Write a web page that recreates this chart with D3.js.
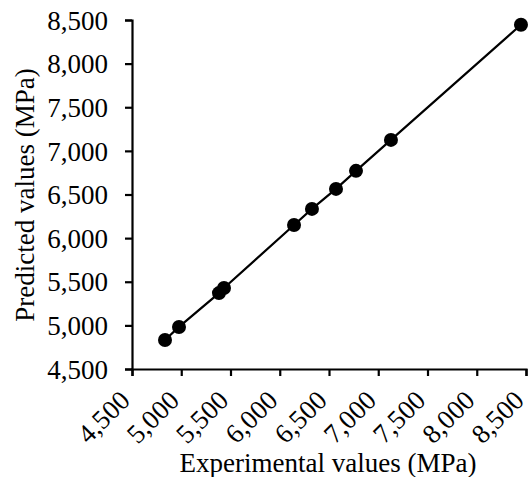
<!DOCTYPE html>
<html>
<head>
<meta charset="utf-8">
<script src="https://cdn.jsdelivr.net/npm/d3@7"></script>
<style>
  body { margin: 0; background: #fff; }
  svg { display: block; }
  text { font-family: "Liberation Serif", "Times New Roman", serif; fill: #000; }
</style>
</head>
<body>
<svg id="chart"></svg>
<script>
// experimental vs predicted (MPa)
var experimental = [4835, 4977, 5383, 5434, 6145, 6327, 6571, 6774, 7129, 8449];
var predicted    = [4832, 4982, 5370, 5428, 6151, 6335, 6564, 6771, 7126, 8445];
var tickValues = [4500, 5000, 5500, 6000, 6500, 7000, 7500, 8000, 8500];

var width = 530, height = 477;
var margin = { left: 132, right: 4, top: 20, bottom: 108 };

var svg = d3.select("#chart").attr("width", width).attr("height", height);

var x = d3.scaleLinear().domain([4500, 8500]).range([margin.left, width - margin.right]);
var y = d3.scaleLinear().domain([4500, 8500]).range([height - margin.bottom, margin.top]);

var fmt = d3.format(",");

// y axis
var yAxis = svg.append("g")
    .attr("transform", "translate(" + margin.left + ",0)")
    .call(d3.axisLeft(y).tickValues(tickValues).tickFormat(fmt).tickSizeOuter(0).tickSize(7).tickPadding(17));
yAxis.select(".domain").attr("stroke-width", 2.2);
yAxis.selectAll(".tick line").attr("stroke-width", 2.2);
yAxis.selectAll(".tick text").style("font-size", "27px").attr("dy", "0.34em");

// x axis, labels turned 45 degrees
var xAxis = svg.append("g")
    .attr("transform", "translate(0," + y(4500) + ")")
    .call(d3.axisBottom(x).tickValues(tickValues).tickFormat(fmt).tickSizeOuter(0).tickSize(7));
xAxis.select(".domain").attr("stroke-width", 2.2);
xAxis.selectAll(".tick line").attr("stroke-width", 2.2);
xAxis.selectAll(".tick text")
    .style("font-size", "27px")
    .attr("text-anchor", "end")
    .attr("dy", null)
    .attr("y", 0)
    .attr("transform", "translate(-1,33) rotate(-45)");

var pts = experimental.map(function (d, i) { return [d, predicted[i]]; });

// connecting line
svg.append("path")
    .datum(pts)
    .attr("fill", "none")
    .attr("stroke", "#000")
    .attr("stroke-width", 2.2)
    .attr("d", d3.line().x(function (d) { return x(d[0]); }).y(function (d) { return y(d[1]); }));

// markers
svg.selectAll(".pt")
    .data(pts).enter()
    .append("circle")
    .attr("class", "pt")
    .attr("cx", function (d) { return x(d[0]); })
    .attr("cy", function (d) { return y(d[1]); })
    .attr("r", 7)
    .attr("fill", "#000");

// axis titles
svg.append("text")
    .attr("x", 328)
    .attr("y", 472)
    .attr("text-anchor", "middle")
    .style("font-size", "27px")
    .text("Experimental values (MPa)");

svg.append("text")
    .attr("transform", "translate(34,195) rotate(-90)")
    .attr("text-anchor", "middle")
    .style("font-size", "27px")
    .text("Predicted values (MPa)");
</script>
</body>
</html>
